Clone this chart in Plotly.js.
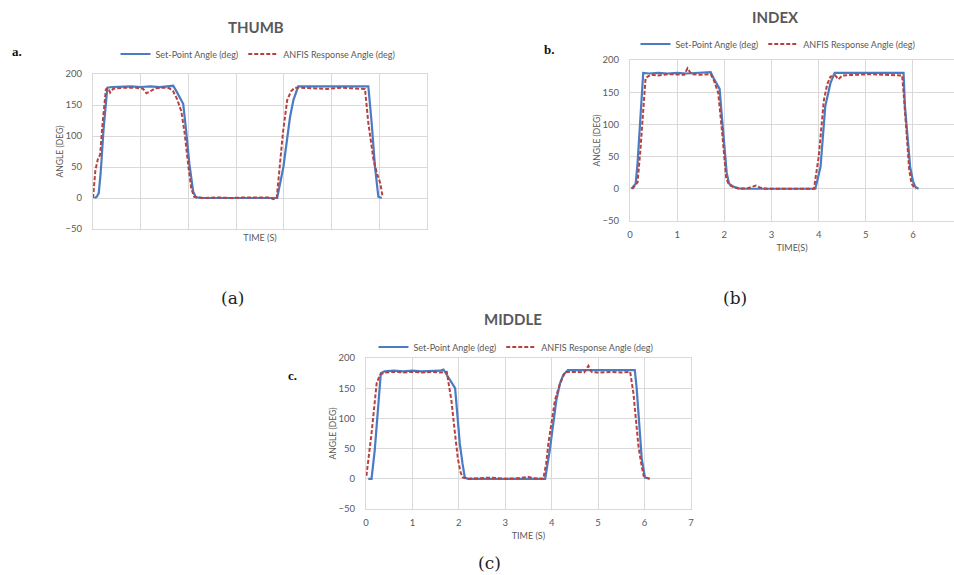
<!DOCTYPE html>
<html>
<head>
<meta charset="utf-8">
<script src="https://cdn.plot.ly/plotly-3.0.1.min.js"></script>
<style>html,body{margin:0;padding:0;background:#fff;}#chart{width:954px;height:575px;}</style>
</head>
<body>
<div id="chart"></div>
<script>
// ---- THUMB (a) ----
const thumbSetT = [0.03,0.08,0.12,0.16,0.22,0.3,0.4,0.6,0.8,1.0,1.2,1.4,1.6,1.68,1.75,1.82,1.89,1.95,2.02,2.1,2.16,2.3,2.6,3.0,3.4,3.7,3.86,3.99,4.06,4.13,4.2,4.3,4.5,4.8,5.1,5.4,5.6,5.77,5.84,5.91,5.98,6.05];
const thumbSetV = [0,2,8,40,110,178,179,180,180,179,180,179,180,181,172,162,152,110,55,10,1,0,0,0,0,0,0,50,90,131,158,180,180,180,180,180,179,180,121,50,2,0];
const thumbAnfisT = [0,0.05,0.1,0.15,0.2,0.27,0.32,0.36,0.42,0.5,0.7,0.9,1.05,1.12,1.2,1.3,1.5,1.6,1.68,1.76,1.85,1.92,2.0,2.06,2.12,2.3,2.6,2.9,3.2,3.5,3.7,3.78,3.85,3.9,3.98,4.07,4.15,4.23,4.35,4.6,4.9,5.2,5.4,5.6,5.7,5.77,5.88,5.95,6.02,6.07];
const thumbAnfisV = [0,45,62,70,120,175,177,170,176,177,178,178,176,169,172,177,178,177,172,160,140,105,50,15,2,0,1,0,1,1,1,-2,0,40,105,158,172,178,178,177,176,178,177,177,176,121,61,40,24,2];

// ---- INDEX (b) ----
const indexSetT = [0.03,0.12,0.16,0.22,0.28,0.4,0.6,0.8,1.0,1.2,1.4,1.6,1.71,1.77,1.82,1.9,1.95,2.0,2.05,2.1,2.2,2.35,2.6,3.0,3.4,3.7,3.93,4.04,4.14,4.25,4.34,4.5,4.8,5.1,5.4,5.6,5.8,5.83,5.89,5.94,6.0,6.05,6.12];
const indexSetV = [0,8,40,120,180,179,180,179,180,179,180,180,181,172,165,155,110,60,25,8,3,0,0,0,0,0,0,34,128,164,180,180,180,180,181,180,180,128,70,34,12,3,0];
const indexAnfisT = [0.05,0.16,0.22,0.28,0.33,0.44,0.6,0.8,1.0,1.15,1.22,1.3,1.5,1.71,1.78,1.87,1.95,2.04,2.1,2.18,2.3,2.5,2.67,2.75,2.9,3.2,3.5,3.9,4.0,4.11,4.18,4.25,4.35,4.42,4.5,4.8,5.1,5.4,5.6,5.77,5.8,5.87,5.92,5.97,6.03,6.07];
const indexAnfisV = [0,10,60,130,172,177,176,178,177,177,187,178,177,178,168,149,90,16,6,3,0,1,5,2,0,0,1,0,49,137,162,174,176,170,176,177,178,177,176,176,150,75,30,8,2,0];

// ---- MIDDLE (c) ----
const middleSetT = [0.05,0.12,0.19,0.25,0.29,0.32,0.4,0.6,0.8,1.0,1.2,1.4,1.6,1.67,1.74,1.81,1.92,1.97,2.02,2.08,2.13,2.2,2.5,2.8,3.1,3.4,3.7,3.86,3.96,4.03,4.1,4.18,4.25,4.35,4.6,4.9,5.2,5.5,5.7,5.79,5.83,5.87,5.94,6.01,6.11];
const middleSetV = [0,0,48,110,158,175,178,179,178,179,178,178,179,181,172,163,150,105,59,25,2,0,0,0,0,0,0,0,48,90,130,158,172,180,180,180,179,180,179,180,150,105,33,2,0];
const middleAnfisT = [0.01,0.06,0.12,0.18,0.23,0.3,0.4,0.6,0.8,1.0,1.2,1.4,1.6,1.74,1.79,1.84,1.91,1.98,2.04,2.09,2.2,2.4,2.7,3.0,3.3,3.5,3.6,3.82,3.88,3.93,4.0,4.07,4.18,4.29,4.5,4.7,4.79,4.86,5.0,5.3,5.5,5.69,5.76,5.87,5.94,5.98,6.05,6.11];
const middleAnfisV = [5,35,75,120,158,172,176,177,176,177,176,177,176,177,155,130,80,33,10,2,0,1,2,0,1,3,1,0,25,59,95,130,158,177,177,176,187,177,176,177,176,177,142,53,20,5,2,0];

const panelTitles = ["THUMB","INDEX","MIDDLE"];
const xTitles = ["TIME (S)","TIME(S)","TIME (S)"];
const yTitle = "ANGLE (DEG)";
const setName = "Set-Point Angle (deg)";
const anfisName = "ANFIS Response Angle (deg)";
const xTicks = [0,1,2,3,4,5,6,7];
const yTicks = [-50,0,50,100,150,200];

const BLUE = "#4A7CC4", RED = "#B8413F";
const GRID = "#d9d9d9", TXT = "#595959";
const FONT = "Lato, 'Open Sans', sans-serif";

function pair(tS, vS, tA, vA, ax, lg) {
  const xa = ax === 1 ? "x" : "x" + ax, ya = ax === 1 ? "y" : "y" + ax;
  return [
    {x: tS, y: vS, type: "scatter", mode: "lines", name: setName, xaxis: xa, yaxis: ya,
     legend: lg, line: {color: BLUE, width: 2.2}},
    {x: tA, y: vA, type: "scatter", mode: "lines", name: anfisName, xaxis: xa, yaxis: ya,
     legend: lg, line: {color: RED, width: 2, dash: "4px,2px"}}
  ];
}
const data = [].concat(
  pair(thumbSetT, thumbSetV, thumbAnfisT, thumbAnfisV, 1, "legend"),
  pair(indexSetT, indexSetV, indexAnfisT, indexAnfisV, 2, "legend2"),
  pair(middleSetT, middleSetV, middleAnfisT, middleAnfisV, 3, "legend3")
);

function xax(dom, anchor, range, title, showLabels, mirror) {
  return {domain: dom, anchor: anchor, range: range, tickvals: xTicks, showticklabels: showLabels,
    showgrid: true, gridcolor: GRID, gridwidth: 1, zeroline: false, showline: true, linecolor: GRID,
    mirror: mirror, ticks: "", ticklabelstandoff: 5, tickfont: {family: FONT, size: 9.5, color: TXT},
    fixedrange: true,
    title: {text: title, font: {family: FONT, size: 9, color: TXT}, standoff: 5}};
}
function yax(dom, anchor, mirror) {
  return {domain: dom, anchor: anchor, range: [-50, 200], tickvals: yTicks,
    showgrid: true, gridcolor: GRID, gridwidth: 1, zeroline: false, showline: true, linecolor: GRID,
    mirror: mirror, ticks: "", ticklabelstandoff: 8, tickfont: {family: FONT, size: 9.5, color: TXT},
    fixedrange: true,
    title: {text: yTitle, font: {family: FONT, size: 8.5, color: TXT}, standoff: 0}};
}
function leg(x, y) {
  return {orientation: "h", x: x, y: y, xanchor: "center", yanchor: "middle",
    font: {family: FONT, size: 9, color: TXT}, bgcolor: "rgba(0,0,0,0)",
    itemwidth: 30, tracegroupgap: 0};
}

const layout = {
  width: 954, height: 575, autosize: false,
  margin: {l: 0, r: 0, t: 0, b: 0},
  paper_bgcolor: "#fff", plot_bgcolor: "#fff",
  showlegend: true,
  xaxis: xax([0.0975, 0.4476], "y", [0, 7], xTitles[0], false, true),
  yaxis: yax([0.6017, 0.8713], "x", true),
  xaxis2: xax([0.6604, 1.0], "y2", [0, 6.87], xTitles[1], true, true),
  yaxis2: yax([0.6157, 0.8957], "x2", false),
  xaxis3: xax([0.3836, 0.7243], "y3", [0, 7], xTitles[2], true, true),
  yaxis3: yax([0.1148, 0.3774], "x3", true),
  legend: leg(258/954, 1 - 54/575),
  legend2: leg(778/954, 1 - 44/575),
  legend3: leg(516/954, 1 - 347/575),
  annotations: [
    {text: "<b>" + panelTitles[0] + "</b>", x: 256/954, y: 1 - 27/575},
    {text: "<b>" + panelTitles[1] + "</b>", x: 775/954, y: 1 - 17/575},
    {text: "<b>" + panelTitles[2] + "</b>", x: 513/954, y: 1 - 319/575}
  ].map(a => Object.assign(a, {xref: "paper", yref: "paper", showarrow: false,
      xanchor: "center", yanchor: "middle", font: {family: FONT, size: 15, color: TXT}}))
  .concat([
    {text: "<b>a.</b>", x: 17/954, y: 1 - 52/575},
    {text: "<b>b.</b>", x: 549/954, y: 1 - 50/575},
    {text: "<b>c.</b>", x: 292/954, y: 1 - 375/575}
  ].map(a => Object.assign(a, {xref: "paper", yref: "paper", showarrow: false,
      xanchor: "center", yanchor: "middle", font: {family: "'Liberation Serif', serif", size: 13, color: "#111"}})))
  .concat([
    {text: "(a)", x: 232/954, y: 1 - 298/575},
    {text: "(b)", x: 735/954, y: 1 - 298/575},
    {text: "(c)", x: 490/954, y: 1 - 563/575}
  ].map(a => Object.assign(a, {xref: "paper", yref: "paper", showarrow: false,
      xanchor: "center", yanchor: "middle", font: {family: "'DejaVu Serif', serif", size: 17, color: "#222"}})))
};

Plotly.newPlot("chart", data, layout, {displayModeBar: false, staticPlot: true});
</script>
</body>
</html>
